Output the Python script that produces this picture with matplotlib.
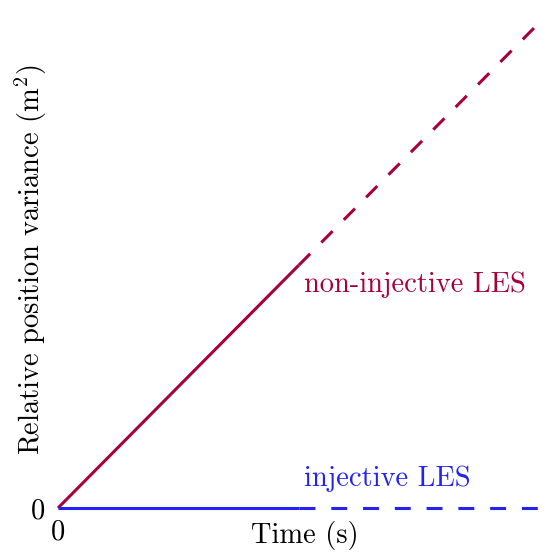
import matplotlib
matplotlib.use("Agg")
import matplotlib.pyplot as plt

plt.rcParams['font.family'] = 'serif'
plt.rcParams['font.serif'] = ['cmr10', 'DejaVu Serif']
plt.rcParams['mathtext.fontset'] = 'cm'
plt.rcParams['axes.formatter.use_mathtext'] = True

# data
t_solid = [0, 1]
t_dash = [1, 2]
noninj_solid = [0, 1]
noninj_dash = [1, 2]
inj_solid = [0, 0]
inj_dash = [0, 0]

red = '#a8003b'
blue = '#2222f2'
fs = 20.5

fig = plt.figure(figsize=(5.47, 5.55), dpi=100)
ax = fig.add_axes([58/547, 47/555, 482/547, 486/555])

ax.plot(t_solid, noninj_solid, color=red, lw=2.2, solid_capstyle='butt', clip_on=False)
ax.plot(t_dash, noninj_dash, color=red, lw=2.2, dashes=(5.2, 5.2), clip_on=False)
ax.plot(t_solid, inj_solid, color=blue, lw=2.2, solid_capstyle='butt', clip_on=False)
ax.plot(t_dash, inj_dash, color=blue, lw=2.2, dashes=(5.2, 5.2), clip_on=False)

ax.text(1.02, 0.92, 'non-injective LES', color=red, fontsize=fs, va='center', ha='left')
ax.text(1.02, 0.12, 'injective LES', color=blue, fontsize=fs, va='center', ha='left')

ax.set_xlim(0, 2)
ax.set_ylim(0, 2)
ax.set_xticks([0])
ax.set_yticks([0])
ax.set_xticklabels(['0'], fontsize=fs)
ax.set_yticklabels(['0'], fontsize=fs)
ax.tick_params(axis='x', length=0, pad=8)
ax.tick_params(axis='y', length=0, pad=9)
for s in ax.spines.values():
    s.set_visible(False)

ax.set_xlabel('Time (s)', fontsize=fs, va='center')
ax.set_ylabel('Relative position variance (m$^2$)', fontsize=fs, va='center')
ax.xaxis.set_label_coords(0.512, -0.056)
ax.yaxis.set_label_coords(-0.056, 0.51)

fig.savefig('out.png', dpi=100)
